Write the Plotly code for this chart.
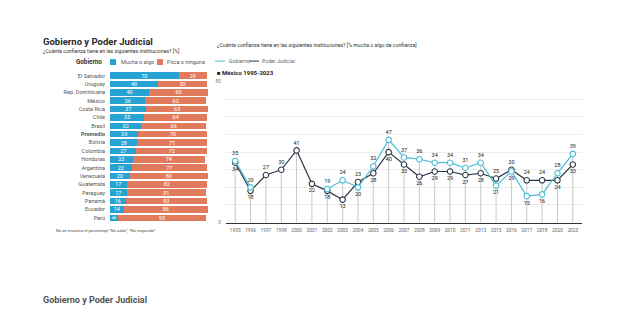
import plotly.graph_objects as go

# ---------------- data ----------------
countries = ["El Salvador", "Uruguay", "Rep. Dominicana", "México", "Costa Rica", "Chile", "Brasil",
             "Promedio", "Bolivia", "Colombia", "Honduras", "Argentina", "Venezuela", "Guatemala",
             "Paraguay", "Panamá", "Ecuador", "Perú"]
mucha = [70, 49, 40, 36, 37, 35, 32, 29, 28, 27, 23, 22, 20, 17, 17, 16, 14, 8]
poca = [29, 50, 60, 62, 63, 64, 66, 70, 71, 72, 74, 77, 80, 82, 81, 83, 86, 90]

years = ["1995", "1996", "1997", "1998", "2000", "2001", "2002", "2003", "2004", "2005", "2006", "2007",
         "2008", "2009", "2010", "2011", "2013", "2015", "2016", "2017", "2018", "2020", "2023"]
gobierno = [35, 20, None, None, None, None, 19, 24, 20, 32, 47, 37, 36, 34, 34, 31, 34, 21, 29, 15, 16, 28, 39]
judicial = [34, 18, 27, 30, 41, 22, 18, 13, 23, 28, 40, 33, 26, 29, 29, 27, 28, 25, 30, 24, 24, 24, 33]

# ---------------- style ----------------
W, H = 632, 324
BLUE = "#27a3d3"
ORANGE = "#e27a5c"
GOB = "#4dbcd6"
PJ = "#2e3846"
FONT = "Roboto"

def px(x):
    return x / W

def py(y):
    return 1 - y / H

fig = go.Figure()

labels = ["<b>Promedio</b>" if c == "Promedio" else c for c in countries]

fig.add_trace(go.Bar(
    y=countries, x=mucha, orientation="h", marker=dict(color=BLUE, line=dict(width=0)),
    text=mucha, textposition="inside", insidetextanchor="middle", constraintext="none",
    textfont=dict(color="white", size=5.5, family=FONT), xaxis="x", yaxis="y",
    showlegend=False, hoverinfo="skip"))
fig.add_trace(go.Bar(
    y=countries, x=poca, orientation="h", marker=dict(color=ORANGE, line=dict(width=0)),
    text=poca, textposition="inside", insidetextanchor="middle", constraintext="none",
    textfont=dict(color="white", size=5.5, family=FONT), xaxis="x", yaxis="y",
    showlegend=False, hoverinfo="skip"))

# drop lines
dx, dy = [], []
for yr, g, j in zip(years, gobierno, judicial):
    top = max(v for v in (g, j) if v is not None)
    dx += [yr, yr, None]
    dy += [0, top, None]
fig.add_trace(go.Scatter(x=dx, y=dy, mode="lines", line=dict(color="#c8c8c8", width=1),
                         xaxis="x2", yaxis="y2", showlegend=False, hoverinfo="skip"))

gob_pos, pj_pos = [], []
for yr, g, j in zip(years, gobierno, judicial):
    if g is None:
        gob_pos.append("top center")
        pj_pos.append("bottom center" if yr == "2001" else "top center")
    elif g >= j:
        gob_pos.append("top center")
        pj_pos.append("bottom center")
    else:
        gob_pos.append("bottom center")
        pj_pos.append("top center")

fig.add_trace(go.Scatter(
    x=years, y=judicial, mode="lines+markers+text", text=judicial, textposition=pj_pos,
    textfont=dict(size=5.5, color="#222", family=FONT),
    line=dict(color=PJ, width=1.2),
    marker=dict(size=5.5, color="white", line=dict(color=PJ, width=1.1)),
    xaxis="x2", yaxis="y2", showlegend=False, hoverinfo="skip"))
fig.add_trace(go.Scatter(
    x=years, y=gobierno, mode="lines+markers+text", text=gobierno, textposition=gob_pos,
    textfont=dict(size=5.5, color="#222", family=FONT),
    line=dict(color=GOB, width=1.2), connectgaps=False,
    marker=dict(size=5.5, color="white", line=dict(color=GOB, width=1.1)),
    xaxis="x2", yaxis="y2", showlegend=False, hoverinfo="skip"))

fig.update_layout(
    width=W, height=H, margin=dict(l=0, r=0, t=0, b=0),
    paper_bgcolor="white", plot_bgcolor="white",
    barmode="stack", bargap=0.22,
    uniformtext=dict(mode="show", minsize=5.5),
    font=dict(family=FONT, color="#333"),
    xaxis=dict(domain=[px(110), px(208)], range=[0, 100], visible=False, fixedrange=True),
    yaxis=dict(domain=[py(223.5), py(70.5)], autorange="reversed", tickmode="array",
               tickvals=countries, ticktext=labels, ticks="", showline=False, showgrid=False,
               tickfont=dict(size=5.5, color="#555", family=FONT), ticklabelstandoff=4),
    xaxis2=dict(domain=[px(226), px(582)], type="category", range=[-0.6, 22.6],
                showgrid=False, showline=True, linecolor="#333", linewidth=1.3, ticks="",
                tickfont=dict(size=4.8, color="#666", family=FONT), anchor="y2",
                ticklabelstandoff=3),
    yaxis2=dict(domain=[py(224), py(81)], range=[0, 80], tickmode="array", tickvals=[0, 80],
                showgrid=True, gridcolor="#eeeeee", zeroline=False, showline=False,
                tickfont=dict(size=4.8, color="#777", family=FONT), anchor="x2",
                ticklabelstandoff=4,
                minor=dict(tickmode="linear", dtick=10, showgrid=True, gridcolor="#eeeeee", gridwidth=1)),
)

ann = []
def text(x, y, s, size, color="#333", xanchor="left", bold=False):
    ann.append(dict(x=px(x), y=py(y), xref="paper", yref="paper", text=(f"<b>{s}</b>" if bold else s),
                    showarrow=False, xanchor=xanchor, yanchor="middle",
                    font=dict(size=size, color=color, family=FONT)))

text(41, 40, "Gobierno y Poder Judicial", 9.5, "#2a2a2a", bold=True)
text(41, 50, "¿Cuánta confianza tiene en las siguientes instituciones? [%]", 5.2, "#333")
text(104, 61, "Gobierno", 6.3, "#333", xanchor="right", bold=True)
text(119, 61, "Mucha o algo", 5.5, "#555")
text(165, 61, "Poca o ninguna", 5.5, "#555")
text(54, 232, "No se muestra el porcentaje \"No sabe\", \"No responde\"", 4.2, "#555")
text(215, 44, "¿Cuánta confianza tiene en las siguientes instituciones? [% mucha o algo de confianza]", 5.2, "#333")
text(227, 60, "Gobierno", 5.2, "#666")
text(260, 60, "Poder Judicial", 5.2, "#666")
text(215, 72, "■ México 1995-2023", 6, "#222", bold=True)
text(41, 303, "Gobierno y Poder Judicial", 9, "#555", bold=True)

shapes = [
    dict(type="rect", xref="paper", yref="paper", x0=px(110), x1=px(116), y0=py(64), y1=py(58),
         fillcolor=BLUE, line=dict(width=0)),
    dict(type="rect", xref="paper", yref="paper", x0=px(157), x1=px(163), y0=py(64), y1=py(58),
         fillcolor=ORANGE, line=dict(width=0)),
    dict(type="line", xref="paper", yref="paper", x0=px(215), x1=px(225), y0=py(60), y1=py(60),
         line=dict(color=GOB, width=1)),
    dict(type="line", xref="paper", yref="paper", x0=px(249), x1=px(259), y0=py(60), y1=py(60),
         line=dict(color=PJ, width=1)),
]
fig.update_layout(annotations=ann, shapes=shapes)

fig.write_html("out.html")
